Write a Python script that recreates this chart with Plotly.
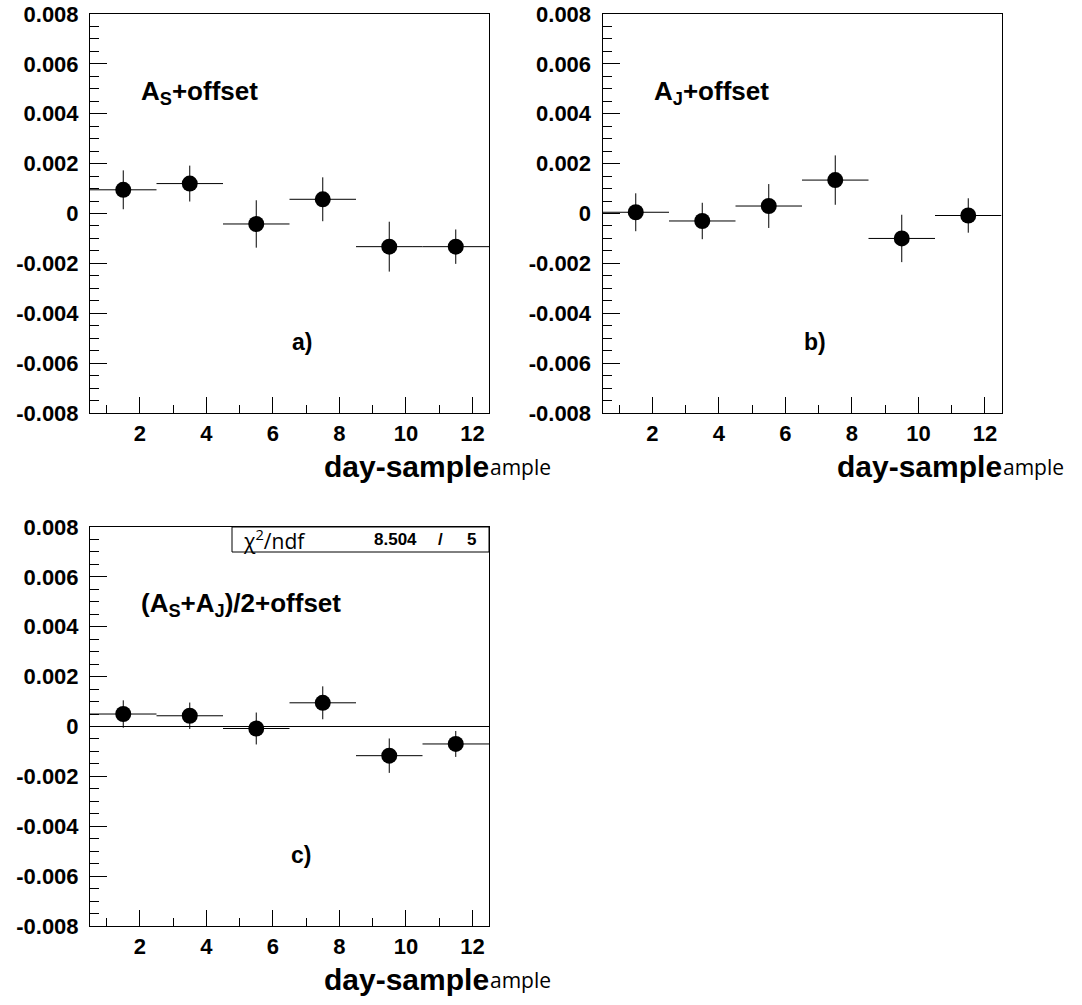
import plotly.graph_objects as go

# ---------------- data ----------------
x_centers = [1.5, 3.5, 5.5, 7.5, 9.5, 11.5]
bin_half_width = [1, 1, 1, 1, 1, 1]

as_vals = [0.00095, 0.00120, -0.00042, 0.00057, -0.00133, -0.00133]
as_errs = [0.00078, 0.00072, 0.00095, 0.00088, 0.00100, 0.00069]

aj_vals = [0.00005, -0.00030, 0.00030, 0.00134, -0.00100, -0.00008]
aj_errs = [0.00076, 0.00073, 0.00088, 0.00099, 0.00095, 0.00069]

avg_vals = [0.00050, 0.00043, -0.00008, 0.00095, -0.00117, -0.00070]
avg_errs = [0.00055, 0.00053, 0.00064, 0.00066, 0.00069, 0.00052]

fit_const = 0.0
fit_range = [0.5, 12.5]

y_tick_vals = [-0.008, -0.006, -0.004, -0.002, 0, 0.002, 0.004, 0.006, 0.008]
y_tick_text = ["-0.008", "-0.006", "-0.004", "-0.002", "0", "0.002", "0.004", "0.006", "0.008"]
x_tick_vals = [2, 4, 6, 8, 10, 12]
x_tick_text = ["2", "4", "6", "8", "10", "12"]

panel_labels = ["A<sub>S</sub>+offset", "A<sub>J</sub>+offset", "(A<sub>S</sub>+A<sub>J</sub>)/2+offset"]
panel_tags = ["a)", "b)", "c)"]
x_title_main = "day-sample"
x_title_extra = "ample"
chi2_label = "\u03c7<sup>2</sup>/ndf"
chi2_value = "8.504"
ndf_value = "5"

# ---------------- layout geometry ----------------
W, H = 1082, 1005
def px(x):
    return x / W
def py(y):
    return 1 - y / H

panels = [
    dict(x0=90, x1=489, y0=14, y1=413),
    dict(x0=602.5, x1=1001.5, y0=14, y1=413),
    dict(x0=90, x1=489, y0=527, y1=926),
]

BOLD = "Liberation Sans"
fig = go.Figure()

series = [(as_vals, as_errs), (aj_vals, aj_errs), (avg_vals, avg_errs)]
for i, (vals, errs) in enumerate(series):
    sfx = "" if i == 0 else str(i + 1)
    fig.add_trace(go.Scatter(
        x=x_centers, y=vals, mode="markers",
        marker=dict(symbol="circle", size=16, color="black"),
        error_x=dict(type="data", array=bin_half_width, symmetric=True, width=0, thickness=1, color="black"),
        error_y=dict(type="data", array=errs, symmetric=True, width=0, thickness=1, color="black"),
        xaxis="x" + sfx, yaxis="y" + sfx, showlegend=False, hoverinfo="skip",
    ))

# fit line in panel c
fig.add_trace(go.Scatter(
    x=fit_range, y=[fit_const, fit_const], mode="lines",
    line=dict(color="black", width=1), xaxis="x3", yaxis="y3",
    showlegend=False, hoverinfo="skip",
))

tickfont = dict(family=BOLD, size=22, color="black", weight="bold")
for i, p in enumerate(panels):
    sfx = "" if i == 0 else str(i + 1)
    xa = dict(
        domain=[px(p["x0"]), px(p["x1"])], range=[0.5, 12.5], automargin=False,
        anchor="y" + sfx, showline=True, mirror=True, linecolor="black", linewidth=1,
        showgrid=False, zeroline=False,
        tickmode="array", tickvals=x_tick_vals, ticktext=x_tick_text,
        ticks="inside", ticklen=16, tickwidth=1, tickcolor="black",
        minor=dict(tickmode="linear", tick0=0, dtick=1, ticks="inside", ticklen=8, tickcolor="black", tickwidth=1),
        tickfont=tickfont, ticklabelstandoff=1,
    )
    ya = dict(
        domain=[py(p["y1"]), py(p["y0"])], range=[-0.008, 0.008], automargin=False,
        anchor="x" + sfx, showline=True, mirror=True, linecolor="black", linewidth=1,
        showgrid=False, zeroline=False,
        tickmode="array", tickvals=y_tick_vals, ticktext=y_tick_text,
        ticks="inside", ticklen=17, tickwidth=1, tickcolor="black",
        minor=dict(tickmode="linear", tick0=0, dtick=0.0005, ticks="inside", ticklen=9, tickcolor="black", tickwidth=1),
        tickfont=tickfont, ticklabelstandoff=6,
    )
    fig.update_layout(**{"xaxis" + sfx: xa, "yaxis" + sfx: ya})

annotations = []
label_pos = [(139, 93), (652, 93), (139, 604)]
tag_pos = [(290, 342), (802, 342), (289, 855)]
for i, p in enumerate(panels):
    lx, ly = label_pos[i]
    annotations.append(dict(
        x=px(lx), y=py(ly), xref="paper", yref="paper", xanchor="left", yanchor="middle",
        text=panel_labels[i], showarrow=False,
        font=dict(family=BOLD, size=26, color="black", weight="bold"),
    ))
    tx, ty = tag_pos[i]
    annotations.append(dict(
        x=px(tx), y=py(ty), xref="paper", yref="paper", xanchor="left", yanchor="middle",
        text=panel_tags[i], showarrow=False,
        font=dict(family=BOLD, size=23, color="black", weight="bold"),
    ))
    ty_title = p["y1"] + 53
    annotations.append(dict(
        x=px(p["x1"] + 2), y=py(ty_title), xref="paper", yref="paper", xanchor="right", yanchor="middle",
        text=x_title_main, showarrow=False,
        font=dict(family=BOLD, size=30, color="black", weight="bold"),
    ))
    annotations.append(dict(
        x=px(p["x1"] - 1), y=py(ty_title + 1), xref="paper", yref="paper", xanchor="left", yanchor="middle",
        text=x_title_extra, showarrow=False,
        font=dict(family="Open Sans", size=21, color="black"),
    ))

# chi2 box in panel c
pc = panels[2]
box_left = 232
box_bottom = pc["y0"] + 25
shapes = [dict(
    type="rect", xref="paper", yref="paper",
    x0=px(box_left), x1=px(pc["x1"]), y0=py(box_bottom), y1=py(pc["y0"]),
    line=dict(color="black", width=1), fillcolor="white", layer="above",
)]
box_mid = pc["y0"] + 12.5
annotations.append(dict(
    x=px(241), y=py(box_mid), xref="paper", yref="paper", xanchor="left", yanchor="middle",
    text=chi2_label, showarrow=False, font=dict(family="Open Sans", size=21, color="black"),
))
annotations.append(dict(
    x=px(395), y=py(box_mid), xref="paper", yref="paper", xanchor="center", yanchor="middle",
    text=chi2_value, showarrow=False, font=dict(family=BOLD, size=17, color="black", weight="bold"),
))
annotations.append(dict(
    x=px(440), y=py(box_mid), xref="paper", yref="paper", xanchor="center", yanchor="middle",
    text="/", showarrow=False, font=dict(family=BOLD, size=17, color="black", weight="bold"),
))
annotations.append(dict(
    x=px(471), y=py(box_mid), xref="paper", yref="paper", xanchor="center", yanchor="middle",
    text=ndf_value, showarrow=False, font=dict(family=BOLD, size=17, color="black", weight="bold"),
))

fig.update_layout(
    width=W, height=H, margin=dict(l=0, r=0, t=0, b=0, autoexpand=False),
    paper_bgcolor="white", plot_bgcolor="white",
    showlegend=False, annotations=annotations, shapes=shapes,
)

fig.write_html("out.html")
